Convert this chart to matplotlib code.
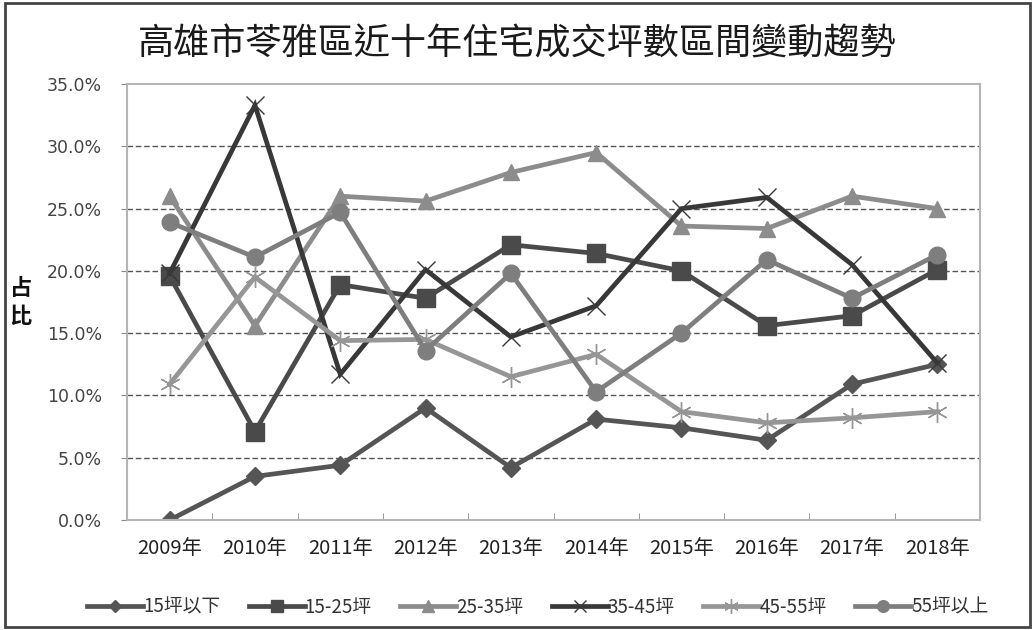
import matplotlib
matplotlib.use("Agg")
import matplotlib.pyplot as plt
from matplotlib.ticker import FuncFormatter, MultipleLocator
from matplotlib.patches import Rectangle

plt.rcParams['font.family'] = ['Noto Sans CJK TC', 'DejaVu Sans']

years = ["2009年", "2010年", "2011年", "2012年", "2013年",
         "2014年", "2015年", "2016年", "2017年", "2018年"]

below_15 = [0.0, 3.5, 4.4, 9.0, 4.2, 8.1, 7.4, 6.4, 10.9, 12.5]
s15_25 = [19.6, 7.1, 18.9, 17.8, 22.1, 21.4, 20.0, 15.6, 16.4, 20.1]
s25_35 = [26.0, 15.6, 26.0, 25.6, 27.9, 29.5, 23.6, 23.4, 26.0, 25.0]
s35_45 = [19.8, 33.3, 11.7, 20.1, 14.7, 17.2, 25.0, 25.9, 20.5, 12.6]
s45_55 = [10.9, 19.5, 14.4, 14.5, 11.5, 13.3, 8.7, 7.8, 8.2, 8.7]
above_55 = [23.9, 21.1, 24.7, 13.6, 19.8, 10.3, 15.0, 20.9, 17.8, 21.3]

labels = ["15坪以下", "15-25坪", "25-35坪", "35-45坪", "45-55坪", "55坪以上"]

fig = plt.figure(figsize=(10.34, 6.30), dpi=100)
ax = fig.add_axes([0.1228, 0.1746, 0.825, 0.692])

x = list(range(len(years)))
styles = [
    (below_15, "#555555", "D", 9, 3.4),
    (s15_25, "#4a4a4a", "s", 13, 3.4),
    (s25_35, "#8c8c8c", "^", 12, 3.4),
    (s35_45, "#383838", "x", 13, 3.4),
    (s45_55, "#969696", (6, 2, 0), 15, 3.4),
    (above_55, "#7e7e7e", "o", 12, 3.4),
]
for (vals, col, mk, ms, lw), lab in zip(styles, labels):
    ax.plot(x, vals, color=col, lw=lw, marker=mk, markersize=ms,
            markeredgewidth=1.0, markerfacecolor=col, markeredgecolor=col,
            label=lab, solid_joinstyle="miter")

ax.set_xlim(-0.5, 9.5)
ax.set_ylim(0, 35)
ax.yaxis.set_major_locator(MultipleLocator(5))
ax.yaxis.set_major_formatter(FuncFormatter(lambda v, p: f"{v:.1f}%"))
ax.set_xticks(x)
ax.set_xticklabels(years)
ax.set_xticks([i + 0.5 for i in range(9)], minor=True)
ax.tick_params(axis="x", which="major", length=0, pad=13, labelsize=14.5,
               colors="#222222")
ax.tick_params(axis="x", which="minor", length=5, direction="in", color="#888888")
ax.tick_params(axis="y", length=4, direction="out", color="#888888",
               labelsize=12.5, labelcolor="#444444", pad=14)
for t in ax.get_yticklabels():
    t.set_fontfamily("DejaVu Sans")

for v in range(5, 35, 5):
    ax.axhline(v, color="#555555", lw=1.0, ls=(0, (4, 2)), zorder=0)
for s in ax.spines.values():
    s.set_color("#b5b5b5")
    s.set_linewidth(1.5)

fig.text(0.5, 0.93, "高雄市苓雅區近十年住宅成交坪數區間變動趨勢",
         ha="center", va="center", fontsize=26, color="#1a1a1a",
         fontweight="medium")
fig.text(0.02, 0.52, "占\n比", ha="center", va="center", fontsize=16,
         fontweight="bold", color="#111111", linespacing=1.3)

fig.legend(loc="center", bbox_to_anchor=(0.52, 0.036), ncol=6, frameon=False,
           fontsize=13.5, handlelength=3.0, columnspacing=1.5,
           handletextpad=0.0, markerscale=0.7, labelcolor="#333333")

fig.patches.append(Rectangle((0.005, 0.005), 0.991, 0.99, transform=fig.transFigure,
                             fill=False, edgecolor="#444444", lw=2.0))

fig.savefig("out.png", dpi=100)
